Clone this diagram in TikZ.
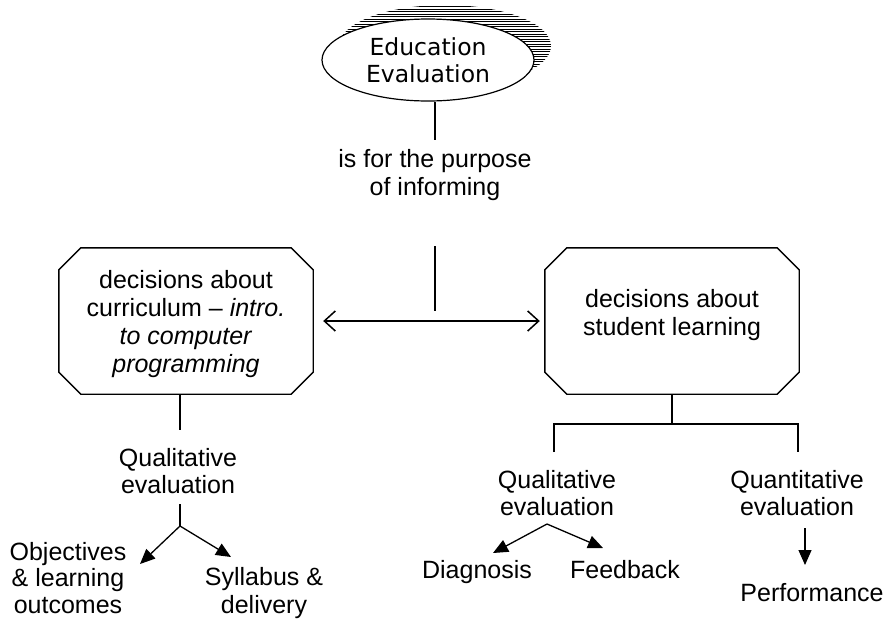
\documentclass[tikz,border=0pt]{standalone}
\usepackage{fontspec}
\setmainfont{Liberation Sans}
\newfontfamily\ovalfont{DejaVu Sans}
\usetikzlibrary{shapes.geometric,arrows.meta,calc}
% octagonal outline drawn round a named rectangular node
\newcommand\cutcornerbox[2]{%
  \draw[line width=1.4pt]
    ($(#1.north west)+(#2,0)$) -- ($(#1.north east)+(-#2,0)$) --
    ($(#1.north east)+(0,#2)$) -- ($(#1.south east)+(0,-#2)$) --
    ($(#1.south east)+(-#2,0)$) -- ($(#1.south west)+(#2,0)$) --
    ($(#1.south west)+(0,-#2)$) -- ($(#1.north west)+(0,#2)$) -- cycle;}
\begin{document}
\begin{tikzpicture}[x=1pt,y=-1pt,
  every node/.style={font=\fontsize{25}{27.8}\selectfont, align=center, inner sep=0pt},
  link/.style={line width=1.3pt},
  box/.style={rectangle, minimum width=254pt, minimum height=146pt},
  oval/.style={draw, ellipse, fill=white, line width=1.2pt,
    minimum width=212pt, minimum height=82pt,
    font=\ovalfont\fontsize{23.5}{27}\selectfont},
  tri/.style={link, -{Triangle[length=15pt,width=13pt]}},
  barb/.style={line width=1.5pt, {Straight Barb[length=11pt,width=20pt]}-{Straight Barb[length=11pt,width=20pt]}}
]
\useasboundingbox (0,0) rectangle (886,622);

% hatched shadow behind the oval
\begin{scope}
  \clip (445,46) ellipse [x radius=106, y radius=41];
  \foreach \yy in {4,6.5,...,100}
    \draw[line width=0.9pt] (330,\yy) -- (570,\yy);
\end{scope}

% top oval
\node[oval] (edu) at (428,60) {Education\\Evaluation};

% purpose label
\node (purpose) at (435,175) {is for the purpose\\of informing};
\coordinate (t1) at (435,140);
\coordinate (t2) at (435,246);
\coordinate (t3) at (435,311);
\draw[link] (edu.south -| t1) -- (t1);
\draw[link] (t2) -- (t3);

% decision boxes
\node[box] (lbox) at (186,321) {};
\cutcornerbox{lbox}{22}
\node (ltext) at ($(lbox.center)+(0,3)$) {decisions about\\curriculum – \textit{intro.}\\\textit{to computer}\\\textit{programming}};
\node[box] (rbox) at (672,321) {};
\cutcornerbox{rbox}{22}
\node (rtext) at ($(rbox.center)+(0,-6)$) {decisions about\\student learning};
\draw[barb, shorten <=10pt, shorten >=5pt] (lbox.east) -- (rbox.west);

% curriculum branch
\coordinate (l1) at (180,430);
\coordinate (l2) at (180,504);
\coordinate (lj) at (180,526);
\coordinate (la) at (140,564);
\coordinate (lb) at (231,557);
\draw[link] (lbox.south -| l1) -- (l1);
\node (lq) at (178,471) {Qualitative\\evaluation};
\draw[link] (l2) -- (lj);
\draw[tri] (lj) -- (la);
\draw[tri] (lj) -- (lb);
\node[font=\fontsize{25}{26.5}\selectfont] (obj) at (68,578) {Objectives\\\& learning\\outcomes};
\node (syl) at (264,593) {Syllabus \&\\delivery};

% student learning branch
\coordinate (r1) at (672,424);
\coordinate (r2) at (554,452);
\coordinate (r3) at (798,452);
\draw[link] (rbox.south -| r1) -- (r1);
\draw[link] (r2) -- (r2 |- r1) -- (r3 |- r1) -- (r3);
\node (rq) at (557,493) {Qualitative\\evaluation};
\node (rn) at (797,493) {Quantitative\\evaluation};
\coordinate (rj) at (547,524);
\coordinate (ra) at (493,553);
\coordinate (rb) at (603,548);
\draw[tri] (rj) -- (ra);
\draw[tri] (rj) -- (rb);
\node (diag) at (477,572) {Diagnosis};
\node (feed) at (625,570) {Feedback};
\coordinate (p1) at (805,528);
\coordinate (p2) at (805,565);
\draw[tri] (p1) -- (p2);
\node (perf) at (812,593) {Performance};
\end{tikzpicture}
\end{document}
